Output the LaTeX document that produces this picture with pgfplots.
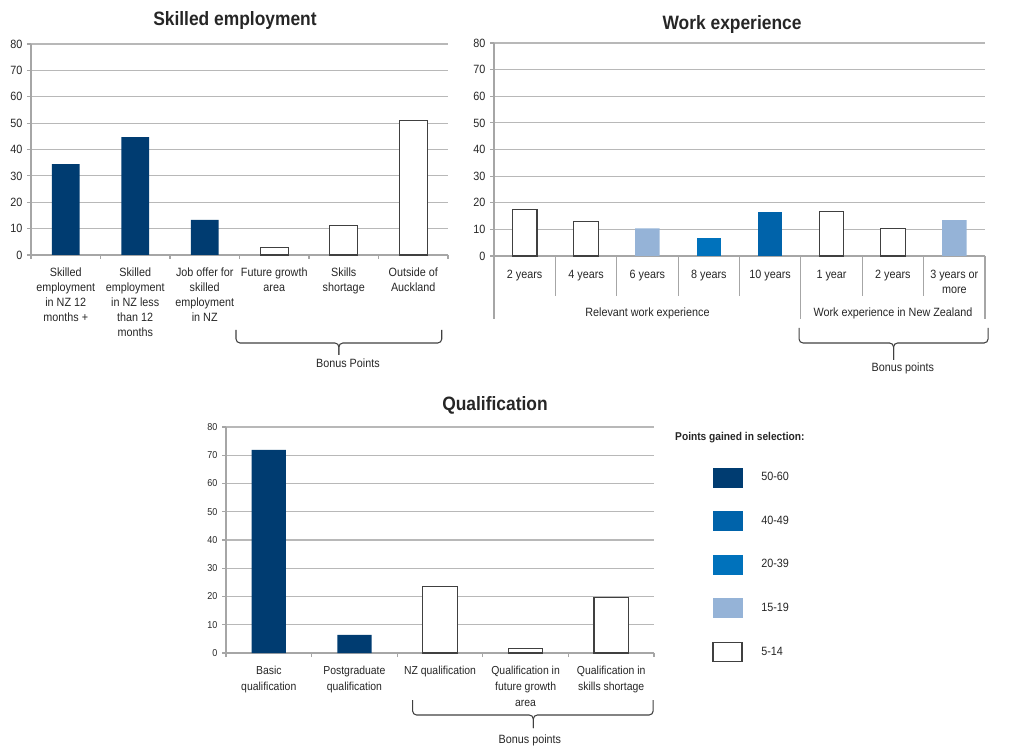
\documentclass[border=0pt]{standalone}
\usepackage{fontspec}
\setmainfont{Liberation Sans}[FakeStretch=0.9]
\usepackage{pgfplots}
\pgfplotsset{compat=1.18}
\definecolor{c5060}{HTML}{003C71}
\definecolor{c4049}{HTML}{0063AA}
\definecolor{c2039}{HTML}{0072BC}
\definecolor{c1519}{HTML}{95B3D7}
\definecolor{gridgray}{HTML}{B8B8B8}
\definecolor{axgray}{HTML}{A6A6A6}
\definecolor{edge}{HTML}{404040}
\definecolor{txt}{HTML}{262626}
\tikzset{brc/.style={edge, line width=0.8pt, rounded corners=3pt}}
\pgfplotsset{
 panel/.style={
   scale only axis, ybar, bar shift=0pt, bar width=0.4,
   ymin=0, ymax=80, ytick={0,10,...,80},
   axis x line*=bottom, axis y line*=left,
   ymajorgrids, grid style={gridgray, line width=0.9pt},
   axis line style={axgray, line width=0.9pt},
   tick style={axgray, line width=0.9pt},
   tick align=outside, major tick length=3pt, minor tick length=3pt,
   major x tick style={draw=none},
   /pgf/number format/assume math mode=true,
   tick label style={font=\fontsize{9}{11.25}\selectfont, text=txt},
   xticklabel style={align=center, yshift=-3pt},
   clip=false,
   title style={font=\fontsize{14.5}{17}\selectfont\bfseries, text=txt, anchor=center, at={(0.5,1)}},
 },
 wbar/.style={fill=white, draw=edge, line width=0.9pt},
 cbar/.style={fill=#1, draw=none},
 sw/.style={legend image code/.code={\fill[#1] (0pt,-7.125pt) rectangle (21.75pt,7.125pt);}},
 swb/.style={legend image code/.code={\draw[fill=white, draw=edge, line width=0.9pt] (0pt,-7.125pt) rectangle (21.75pt,7.125pt);}},
}
\begin{document}
\begin{tikzpicture}
\path[use as bounding box] (0,0) rectangle (767.25pt,559.5pt);

% ---------- Skilled employment ----------
\begin{axis}[panel, at={(23.25pt,368.25pt)}, anchor=south west,
  width=312.75pt, height=158.25pt,
  xmin=0.5, xmax=6.5, xtick={1,...,6},
  minor xtick={0.5,1.5,...,6.5},
  xticklabels={{Skilled\\employment\\in NZ 12\\months +},{Skilled\\employment\\in NZ less\\than 12\\months},{Job offer for\\skilled\\employment\\in NZ},{Future growth\\area},{Skills\\shortage},{Outside of\\Auckland}},
  title={Skilled employment}, title style={yshift=11.5pt, xshift=-3.4pt}]
\addplot[cbar=c5060] coordinates {(1,34.5) (2,44.7) (3,13.3)};
\addplot[wbar] coordinates {(4,2.9) (5,11.3) (6,51.1)};
\draw[brc] ([yshift=-56.25pt]axis cs:3.45,0) |- ([yshift=-66pt]axis cs:4.93,0) -- ([yshift=-75pt]axis cs:4.93,0);
\draw[brc] ([yshift=-56.25pt]axis cs:6.41,0) |- ([yshift=-66pt]axis cs:4.93,0) -- ([yshift=-75pt]axis cs:4.93,0);
\node[font=\fontsize{9}{11}\selectfont, text=txt] at ([yshift=-81pt]axis cs:5.06,0) {Bonus Points};
\end{axis}

% ---------- Work experience ----------
\begin{axis}[panel, at={(370.5pt,367.5pt)}, anchor=south west,
  width=368.25pt, height=159.75pt,
  xmin=0.5, xmax=8.5, xtick={1,...,8},
  minor xtick={1.5,2.5,3.5,4.5,6.5,7.5}, minor tick length=30pt,
  xticklabel style={yshift=-1pt},
  xticklabels={2 years,4 years,6 years,8 years,10 years,1 year,2 years,{3 years or\\more}},
  title={Work experience}, title style={yshift=8pt, xshift=-5.6pt}]
\addplot[wbar] coordinates {(1,17.6) (2,13.1) (6,16.6) (7,10.3)};
\addplot[cbar=c1519] coordinates {(3,10.4) (8,13.5)};
\addplot[cbar=c2039] coordinates {(4,6.8)};
\addplot[cbar=c4049] coordinates {(5,16.5)};
\draw[axgray, line width=0.9pt] (axis cs:0.5,0) -- ++(0pt,-47.25pt);
\draw[axgray, line width=0.9pt] (axis cs:5.5,0) -- ++(0pt,-47.25pt);
\draw[axgray, line width=0.9pt] (axis cs:8.5,0) -- ++(0pt,-47.25pt);
\node[font=\fontsize{9}{11}\selectfont, text=txt] at ([yshift=-42.75pt]axis cs:3,0) {Relevant work experience};
\node[font=\fontsize{9}{11}\selectfont, text=txt] at ([yshift=-42.75pt]axis cs:7,0) {Work experience in New Zealand};
\draw[brc] ([yshift=-54pt]axis cs:5.47,0) |- ([yshift=-65.25pt]axis cs:7.01,0) -- ([yshift=-78pt]axis cs:7.01,0);
\draw[brc] ([yshift=-54pt]axis cs:8.55,0) |- ([yshift=-65.25pt]axis cs:7.01,0) -- ([yshift=-78pt]axis cs:7.01,0);
\node[font=\fontsize{9}{11}\selectfont, text=txt] at ([yshift=-84pt]axis cs:7.16,0) {Bonus points};
\end{axis}

% ---------- Qualification ----------
\begin{axis}[panel, at={(169.5pt,69.75pt)}, anchor=south west,
  width=321pt, height=169.5pt,
  xmin=0.5, xmax=5.5, xtick={1,...,5},
  minor xtick={0.5,1.5,...,5.5},
  yticklabel style={font=\fontsize{7.5}{9}\selectfont},
  xticklabel style={font=\fontsize{8.7}{12}\selectfont},
  xticklabels={{Basic\\qualification},{Postgraduate\\qualification},{NZ qualification},{Qualification in\\future growth\\area},{Qualification in\\skills shortage}},
  title={Qualification}, title style={yshift=10pt, xshift=41.25pt},
  legend style={at={(1.136,0.821)}, anchor=north west, draw=none, fill=none,
    font=\fontsize{9}{11}\selectfont, text=txt, row sep=18pt, column sep=12pt, inner sep=0pt},
  legend cell align=left]
\addplot[cbar=c5060, forget plot] coordinates {(1,71.9) (2,6.4)};
\addplot[wbar, forget plot] coordinates {(3,23.5) (4,1.5) (5,19.7)};
\addlegendimage{sw=c5060}\addlegendentry{50-60}
\addlegendimage{sw=c4049}\addlegendentry{40-49}
\addlegendimage{sw=c2039}\addlegendentry{20-39}
\addlegendimage{sw=c1519}\addlegendentry{15-19}
\addlegendimage{swb}\addlegendentry{5-14}
\node[anchor=west, inner sep=0pt, font=\fontsize{8.5}{10}\selectfont\bfseries, text=txt] at (axis description cs:1.049,0.951) {Points gained in selection:};
\draw[brc] ([yshift=-35.25pt]axis cs:2.68,0) |- ([yshift=-46.5pt]axis cs:4.09,0) -- ([yshift=-56.25pt]axis cs:4.09,0);
\draw[brc] ([yshift=-35.25pt]axis cs:5.49,0) |- ([yshift=-46.5pt]axis cs:4.09,0) -- ([yshift=-56.25pt]axis cs:4.09,0);
\node[font=\fontsize{9}{11}\selectfont, text=txt] at ([yshift=-65.25pt]axis cs:4.05,0) {Bonus points};
\end{axis}
\end{tikzpicture}
\end{document}
